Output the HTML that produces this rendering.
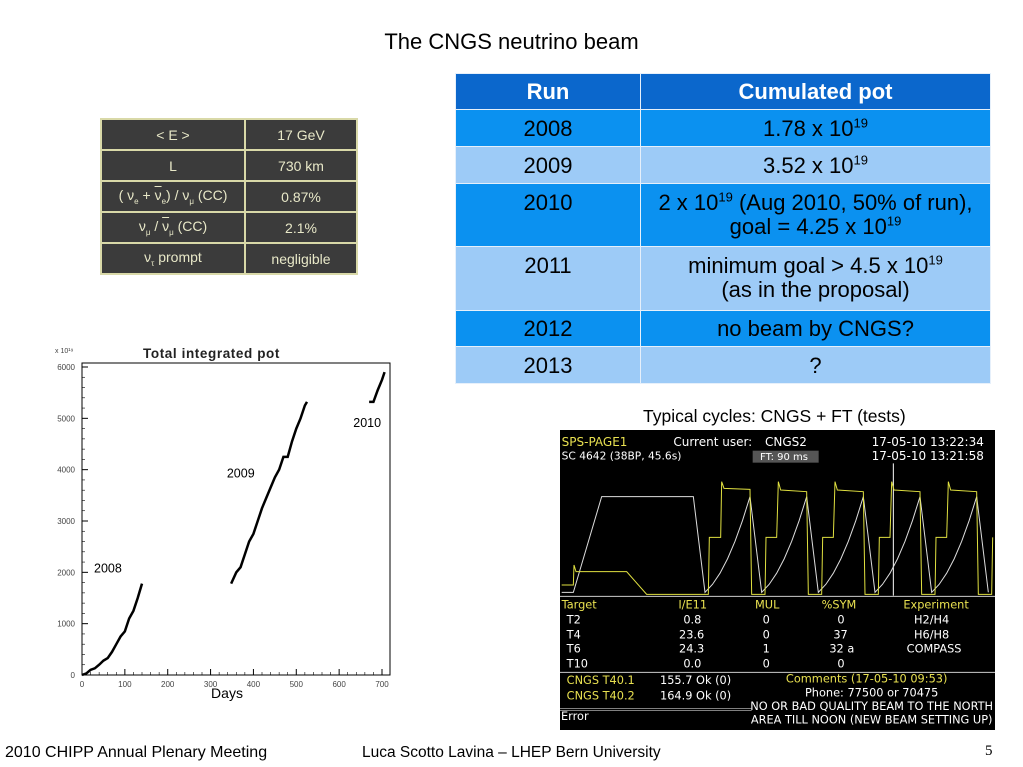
<!DOCTYPE html>
<html><head><meta charset="utf-8">
<style>
body{margin:0;width:1023px;height:767px;background:#fff;position:relative;overflow:hidden;font-family:"Liberation Sans",sans-serif}
.abs{position:absolute}
#main{left:455px;top:73px;width:536px;border-collapse:collapse;font-size:22px;text-align:center;color:#000}
#main td{border:1px solid #e6f0fb;padding:0;vertical-align:top;line-height:24px}
#main sup{font-size:13px;line-height:0}
#params{left:100px;top:118px;width:258px;border-collapse:collapse;background:#3b3b3b;color:#e8e8c8;font-size:14px;text-align:center;border:2px solid #d9d9a8}
#params td{border:2px solid #d9d9a8;height:29px;padding:0}
#params sub{font-size:8px}
.ob{text-decoration:overline}
</style></head><body>
<div class="abs" style="left:0;width:1023px;top:29px;text-align:center;font-size:22px">The CNGS neutrino beam</div>

<table id="params" class="abs">
<tr><td style="width:142px">&lt; E &gt;</td><td>17 GeV</td></tr>
<tr><td>L</td><td>730 km</td></tr>
<tr><td>( ν<sub>e</sub> + <span class="ob">ν</span><sub>e</sub>) / ν<sub>μ</sub> (CC)</td><td>0.87%</td></tr>
<tr><td>ν<sub>μ</sub> / <span class="ob">ν</span><sub>μ</sub> (CC)</td><td>2.1%</td></tr>
<tr><td>ν<sub>τ</sub> prompt</td><td>negligible</td></tr>
</table>

<table id="main" class="abs">
<tr style="background:#0b67cc;color:#fff;font-weight:bold;height:36px"><td style="width:184px;vertical-align:middle">Run</td><td style="vertical-align:middle">Cumulated pot</td></tr>
<tr style="background:#0b91f0;height:37px"><td style="padding-top:7px">2008</td><td style="padding-top:7px">1.78 x 10<sup>19</sup></td></tr>
<tr style="background:#9dcbf7;height:37px"><td style="padding-top:7px">2009</td><td style="padding-top:7px">3.52 x 10<sup>19</sup></td></tr>
<tr style="background:#0b91f0;height:63px"><td style="padding-top:7px">2010</td><td style="padding-top:7px">2 x 10<sup>19</sup> (Aug 2010, 50% of run),<br>goal = 4.25 x 10<sup>19</sup></td></tr>
<tr style="background:#9dcbf7;height:64px"><td style="padding-top:7px">2011</td><td style="padding-top:7px">minimum goal &gt; 4.5 x 10<sup>19</sup><br>(as in the proposal)</td></tr>
<tr style="background:#0b91f0;height:36px"><td style="padding-top:6px">2012</td><td style="padding-top:6px">no beam by CNGS?</td></tr>
<tr style="background:#9dcbf7;height:37px"><td style="padding-top:7px">2013</td><td style="padding-top:7px">?</td></tr>
</table>

<svg class="abs" style="left:0;top:0" width="1023" height="767">
<g id="chart"></g>
</svg>

<div class="abs" style="left:643px;top:406px;font-size:17.5px">Typical cycles: CNGS + FT (tests)</div>

<svg class="abs" style="left:560px;top:430px" width="435" height="300" viewBox="0 0 1305 900" font-family="DejaVu Sans, sans-serif" font-size="34">
<rect x="0" y="0" width="1305" height="900" fill="#000"/>
<text x="5" y="48" fill="#e8e050" font-size="36">SPS-PAGE1</text>
<text x="340" y="48" fill="#fff" font-size="36">Current user:</text>
<text x="615" y="48" fill="#fff" font-size="36">CNGS2</text>
<text x="935" y="48" fill="#fff" font-size="36">17-05-10  13:22:34</text>
<text x="5" y="88" fill="#fff" font-size="32">SC 4642 (38BP, 45.6s)</text>
<rect x="578" y="62" width="198" height="36" fill="#555"/>
<text x="600" y="90" fill="#fff" font-size="30">FT:   90 ms</text>
<text x="935" y="90" fill="#fff" font-size="36">17-05-10  13:21:58</text>
<line x1="1000" y1="100" x2="1000" y2="497" stroke="#fff" stroke-width="3"/>
<polyline id="white-wave" fill="none" stroke="#ddd" stroke-width="3" points=""/>
<polyline id="yellow-wave" fill="none" stroke="#e0e040" stroke-width="3" points=""/>
<line x1="0" y1="499" x2="1305" y2="499" stroke="#ccc" stroke-width="3"/>
<g fill="#e8e050" font-size="34"><text x="5" y="535">Target</text><text x="355" y="535">I/E11</text><text x="585" y="535">MUL</text><text x="785" y="535">%SYM</text><text x="1030" y="535">Experiment</text></g>
<g fill="#fff" font-size="34">
<text x="20" y="580">T2</text><text x="370" y="580">0.8</text><text x="608" y="580">0</text><text x="832" y="580">0</text><text x="1062" y="580">H2/H4</text>
<text x="20" y="625">T4</text><text x="357" y="625">23.6</text><text x="608" y="625">0</text><text x="820" y="625">37</text><text x="1062" y="625">H6/H8</text>
<text x="20" y="668">T6</text><text x="357" y="668">24.3</text><text x="608" y="668">1</text><text x="808" y="668">32 a</text><text x="1040" y="668">COMPASS</text>
<text x="20" y="712">T10</text><text x="370" y="712">0.0</text><text x="608" y="712">0</text><text x="832" y="712">0</text>
</g>
<line x1="0" y1="727" x2="1305" y2="727" stroke="#ccc" stroke-width="3"/>
<g font-size="34"><text x="20" y="762" fill="#e8e050">CNGS T40.1</text><text x="300" y="762" fill="#fff">155.7  Ok (0)</text>
<text x="20" y="808" fill="#e8e050">CNGS T40.2</text><text x="300" y="808" fill="#fff">164.9  Ok (0)</text>
<text x="920" y="758" fill="#e8e050" text-anchor="middle">Comments (17-05-10 09:53)</text>
<text x="935" y="800" fill="#fff" text-anchor="middle">Phone: 77500 or 70475</text>
<text x="935" y="840" fill="#fff" text-anchor="middle">NO OR BAD QUALITY BEAM TO THE NORTH</text>
<text x="935" y="880" fill="#fff" text-anchor="middle">AREA TILL NOON (NEW BEAM SETTING UP)</text>
<text x="3" y="870" fill="#fff">Error</text></g>
<line x1="0" y1="835" x2="575" y2="835" stroke="#ccc" stroke-width="2"/>
<line x1="0" y1="841" x2="575" y2="841" stroke="#ccc" stroke-width="2"/>
</svg>

<div class="abs" style="left:5px;top:744px;font-size:16px">2010 CHIPP Annual Plenary Meeting</div>
<div class="abs" style="left:362px;top:744px;font-size:15.5px">Luca Scotto Lavina – LHEP Bern University</div>
<div class="abs" style="left:985px;top:743px;font-size:15px;font-family:'Liberation Serif',serif">5</div>

<script>
const xTicks=[0,100,200,300,400,500,600,700];
const yTicks=[0,1000,2000,3000,4000,5000,6000];
const days2008=[0,10,20,30,40,50,60,70,80,90,100,110,120,130,140];
const pot2008=[0,30,100,130,200,280,330,450,600,750,850,1100,1250,1500,1780];
const days2009=[348,360,370,380,390,400,410,420,430,440,450,460,470,480,490,500,510,520,525];
const pot2009=[1780,2000,2100,2350,2600,2750,3000,3250,3450,3650,3850,4000,4250,4250,4550,4800,5000,5250,5320];
const days2010=[670,680,690,700,706];
const pot2010=[5320,5320,5550,5750,5900];
const yearLabels=['2008','2009','2010'];
const yearLabelDay=[28,338,633];
const yearLabelPot=[2000,3850,4830];

const NS='http://www.w3.org/2000/svg';
const g=document.getElementById('chart');
const X0=82,X1=390,Y0=675,Y1=367;
const xs=d=>X0+d*(382-X0)/700;
const ys=v=>Y0-v*(Y0-Y1)/6000;
function mk(t,a){const e=document.createElementNS(NS,t);for(const k in a)e.setAttribute(k,a[k]);g.appendChild(e);return e;}
let fr=mk('rect',{x:X0,y:Y1-4,width:X1-X0,height:Y0-Y1+4,fill:'none',stroke:'#000','stroke-width':1});


xTicks.forEach(t=>{
 const l=mk('line',{x1:xs(t),x2:xs(t),y1:Y0,y2:Y0-6,stroke:'#000'});
 
 
 const tx=mk('text',{x:xs(t),y:Y0+12,'font-size':8,'text-anchor':'middle',fill:'#444'});tx.textContent=t;
 
 
});
for(let t=0;t<=700;t+=20){if(t%100)mk('line',{x1:xs(t),x2:xs(t),y1:Y0,y2:Y0-3,stroke:'#000','stroke-width':0.6});}
yTicks.forEach(t=>{
 const l=mk('line',{x1:X0,x2:X0+6,y1:ys(t),y2:ys(t),stroke:'#000'});
 
 
 const tx=mk('text',{x:X0-7,y:ys(t)+3,'font-size':8,'text-anchor':'end',fill:'#444'});tx.textContent=t;
 
 
});
for(let t=0;t<=6000;t+=200){if(t%1000)mk('line',{x1:X0,x2:X0+3,y1:ys(t),y2:ys(t),stroke:'#000','stroke-width':0.6});}
[[days2008,pot2008,'series-2008'],[days2009,pot2009,'series-2009'],[days2010,pot2010,'series-2010']].forEach(([d,p,n])=>{
 const pl=mk('polyline',{points:d.map((v,i)=>xs(v)+','+ys(p[i])).join(' '),fill:'none',stroke:'#000','stroke-width':2.5});
 
 
});
yearLabels.forEach((s,i)=>{
 const tx=mk('text',{x:xs(yearLabelDay[i]),y:ys(yearLabelPot[i]),'font-size':12.5});tx.textContent=s;
 
 
});
let t1=mk('text',{x:143,y:358,'font-size':13.5,'letter-spacing':'0.6','font-weight':'bold',fill:'#222'});t1.textContent='Total integrated pot';


let t2=mk('text',{x:55,y:353,'font-size':7,fill:'#444'});t2.textContent='x 10¹⁹';


let t3=mk('text',{x:227,y:698,'font-size':14,'text-anchor':'middle'});t3.textContent='Days';



// SPS waveforms
let w=[[5,487],[40,487],[125,200],[400,200],[435,487]];
let yv=[[5,465],[40,465],[42,405],[48,425],[200,425],[260,493],[445,493],[448,322],[482,322],[485,155],[492,175],[570,178],[575,493],[615,493],[618,322],[650,322]];
const starts=[435,605,775,945,1115];
starts.forEach((s,i)=>{
 for(let k=1;k<=6;k++){const f=k/6;w.push([s+135*f,487-287*f*f*0.6-287*f*0.4]);}
 w.push([s+170,487]);
});
[655,825,995,1165].forEach((s,i)=>{
 yv.push([s,155],[s+7,180],[s+85,185],[s+90,493],[s+130,493],[s+133,322],[s+165,322]);
});
document.getElementById('white-wave').setAttribute('points',w.map(p=>p.join(',')).join(' '));
document.getElementById('yellow-wave').setAttribute('points',yv.filter(p=>p[0]<=1300).map(p=>p.join(',')).join(' '));
</script>
</body></html>
